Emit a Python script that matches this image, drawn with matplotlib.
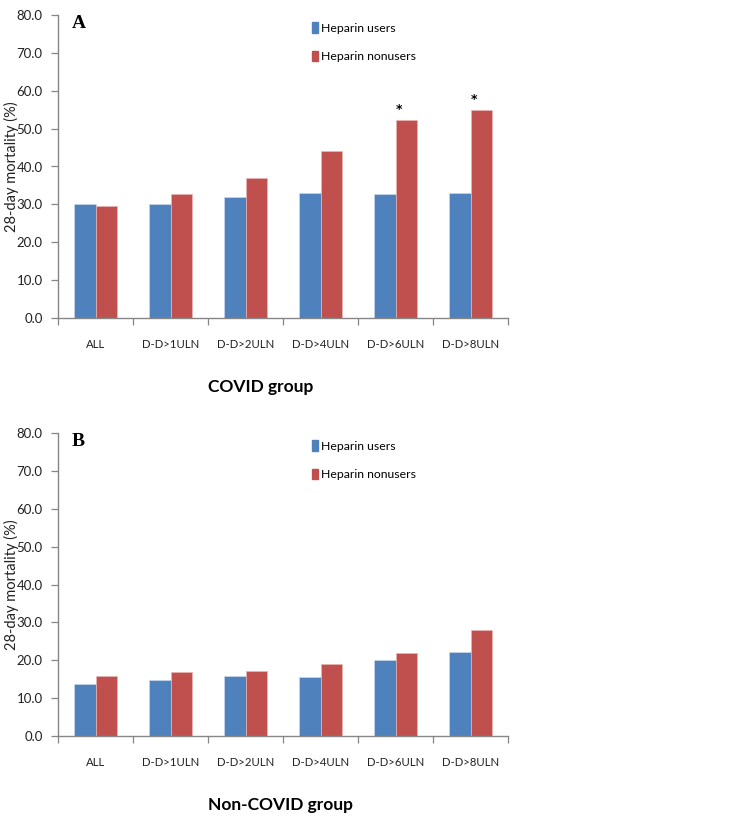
import matplotlib
matplotlib.use("Agg")
import matplotlib.pyplot as plt
from matplotlib.patches import Patch
import numpy as np

categories = ["ALL", "D-D>1ULN", "D-D>2ULN", "D-D>4ULN", "D-D>6ULN", "D-D>8ULN"]
covid_users = [30.2, 30.2, 32.0, 33.1, 32.8, 33.1]
covid_nonusers = [29.6, 32.8, 36.9, 44.2, 52.2, 54.8]
noncovid_users = [13.7, 14.9, 15.9, 15.5, 20.1, 22.3]
noncovid_nonusers = [15.9, 16.8, 17.1, 19.0, 21.9, 28.0]
covid_significant = [False, False, False, False, True, True]
noncovid_significant = [False] * 6
series_labels = ["Heparin users", "Heparin nonusers"]
yticks = [0, 10, 20, 30, 40, 50, 60, 70, 80]

BLUE = "#4F81BD"
RED = "#C0504D"
AXC = "#868686"
FONT = "Lato"

W, H = 744, 821
fig = plt.figure(figsize=(W / 100, H / 100), dpi=100)


def panel(top_px, bottom_px, users, nonusers, sig, letter, title):
    left_px, right_px = 58, 508
    ax = fig.add_axes([left_px / W, 1 - bottom_px / H,
                       (right_px - left_px) / W, (bottom_px - top_px) / H])
    x = np.arange(len(categories))
    bw = 0.285
    ax.bar(x - bw / 2, users, bw, color=BLUE, edgecolor="#c9d7ea", linewidth=0.5,
           label=series_labels[0], zorder=2)
    ax.bar(x + bw / 2, nonusers, bw, color=RED, edgecolor="#e8b4b2", linewidth=0.5,
           label=series_labels[1], zorder=2)
    for i, s in enumerate(sig):
        if s:
            ax.annotate("*", (x[i] + 0.05, nonusers[i]), xytext=(0, 3),
                        textcoords="offset points", ha="center", va="bottom",
                        fontsize=9, fontweight="bold", family="DejaVu Sans")
    ax.set_xlim(-0.5, len(categories) - 0.5)
    ax.set_ylim(0, 80)
    ax.set_yticks(yticks)
    ax.set_yticklabels([f"{v:.1f}" for v in yticks], family=FONT, fontsize=9.5,
                       color="#222222")
    ax.set_xticks(x)
    ax.set_xticklabels(categories, family=FONT, fontsize=8.2, color="#222222")
    ax.set_xticks(np.arange(len(categories) + 1) - 0.5, minor=True)
    ax.tick_params(axis="x", which="major", length=0, pad=15)
    ax.tick_params(axis="x", which="minor", length=5, color=AXC, width=0.9)
    ax.tick_params(axis="y", length=5, color=AXC, width=0.9, pad=6)
    for sp in ["top", "right"]:
        ax.spines[sp].set_visible(False)
    for sp in ["left", "bottom"]:
        ax.spines[sp].set_color(AXC)
        ax.spines[sp].set_linewidth(1.0)
    handles = [Patch(color=BLUE), Patch(color=RED)]
    ax.legend(handles, series_labels, loc="upper left",
              bbox_to_anchor=(0.54, 1.012), frameon=False,
              handlelength=0.5, handleheight=0.9, handletextpad=0.25,
              labelspacing=1.4, prop={"family": FONT, "size": 8.8})
    ax.text(72 / W, 1 - (top_px + 8) / H, letter, transform=fig.transFigure,
            family="Liberation Serif", fontweight="bold", fontsize=14,
            ha="left", va="center")
    mid = (top_px + bottom_px) / 2
    fig.text(11 / W, 1 - mid / H, "28-day mortality (%)", rotation=90,
             family=FONT, fontsize=10.5, ha="center", va="center", color="#222222")
    fig.text(208 / W, 1 - (bottom_px + 69) / H, title, family=FONT,
             fontweight="bold", fontsize=12.5, ha="left", va="center")
    return ax


panel(15, 318, covid_users, covid_nonusers, covid_significant, "A", "COVID group")
panel(433, 736, noncovid_users, noncovid_nonusers, noncovid_significant, "B",
      "Non-COVID group")

fig.savefig("out.png", dpi=100)
